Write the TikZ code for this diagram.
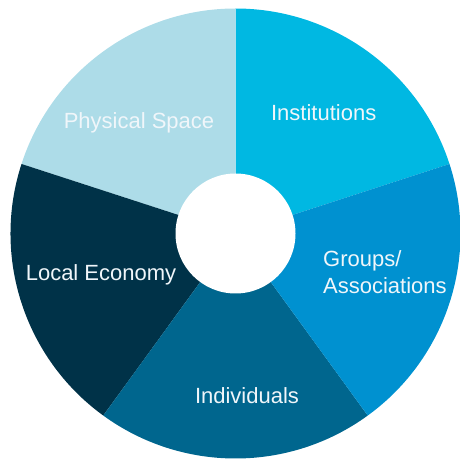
\documentclass[tikz,border=0pt]{standalone}
\usepackage{fontspec}
\setmainfont{Liberation Sans}
\begin{document}
\begin{tikzpicture}[x=1pt, y=1pt,
  label/.style={text=labelwhite, inner sep=0pt, font=\fontsize{22}{27.3}\selectfont},
  sector/.style={draw=none}]
  \definecolor{institutions}{RGB}{0,184,226}
  \definecolor{groups}{RGB}{0,145,208}
  \definecolor{individuals}{RGB}{0,102,142}
  \definecolor{economy}{RGB}{0,50,72}
  \definecolor{space}{RGB}{173,220,232}
  \definecolor{labelwhite}{RGB}{240,246,250}
  \useasboundingbox (0,0) rectangle (460,461);
  \coordinate (C) at (235.5,227.5);
  \def\outerR{225}
  % five equal sectors of the ring, 72 degrees each
  \fill[institutions] (C) -- ++(18:\outerR) arc[start angle=18, end angle=90, radius=\outerR] -- cycle;
  \fill[space] (C) -- ++(90:\outerR) arc[start angle=90, end angle=162, radius=\outerR] -- cycle;
  \fill[economy] (C) -- ++(162:\outerR) arc[start angle=162, end angle=234, radius=\outerR] -- cycle;
  \fill[individuals] (C) -- ++(234:\outerR) arc[start angle=234, end angle=306, radius=\outerR] -- cycle;
  \fill[groups] (C) -- ++(306:\outerR) arc[start angle=306, end angle=378, radius=\outerR] -- cycle;
  % central hole
  \node[circle, fill=white, draw=none, minimum size=120pt, inner sep=0pt] (hole) at (C) {};
  % sector labels
  \node[label, anchor=base] (inst) at (323.7,340) {Institutions};
  \node[label, anchor=base] (phys) at (139,332.7) {Physical Space};
  \node[label, anchor=base] (econ) at (101,180) {Local Economy};
  \node[label, anchor=base] (indiv) at (247,57.7) {Individuals};
  \node[label, anchor=base west, align=left] (grp) at (323,167) {Groups/\\Associations};
\end{tikzpicture}
\end{document}
